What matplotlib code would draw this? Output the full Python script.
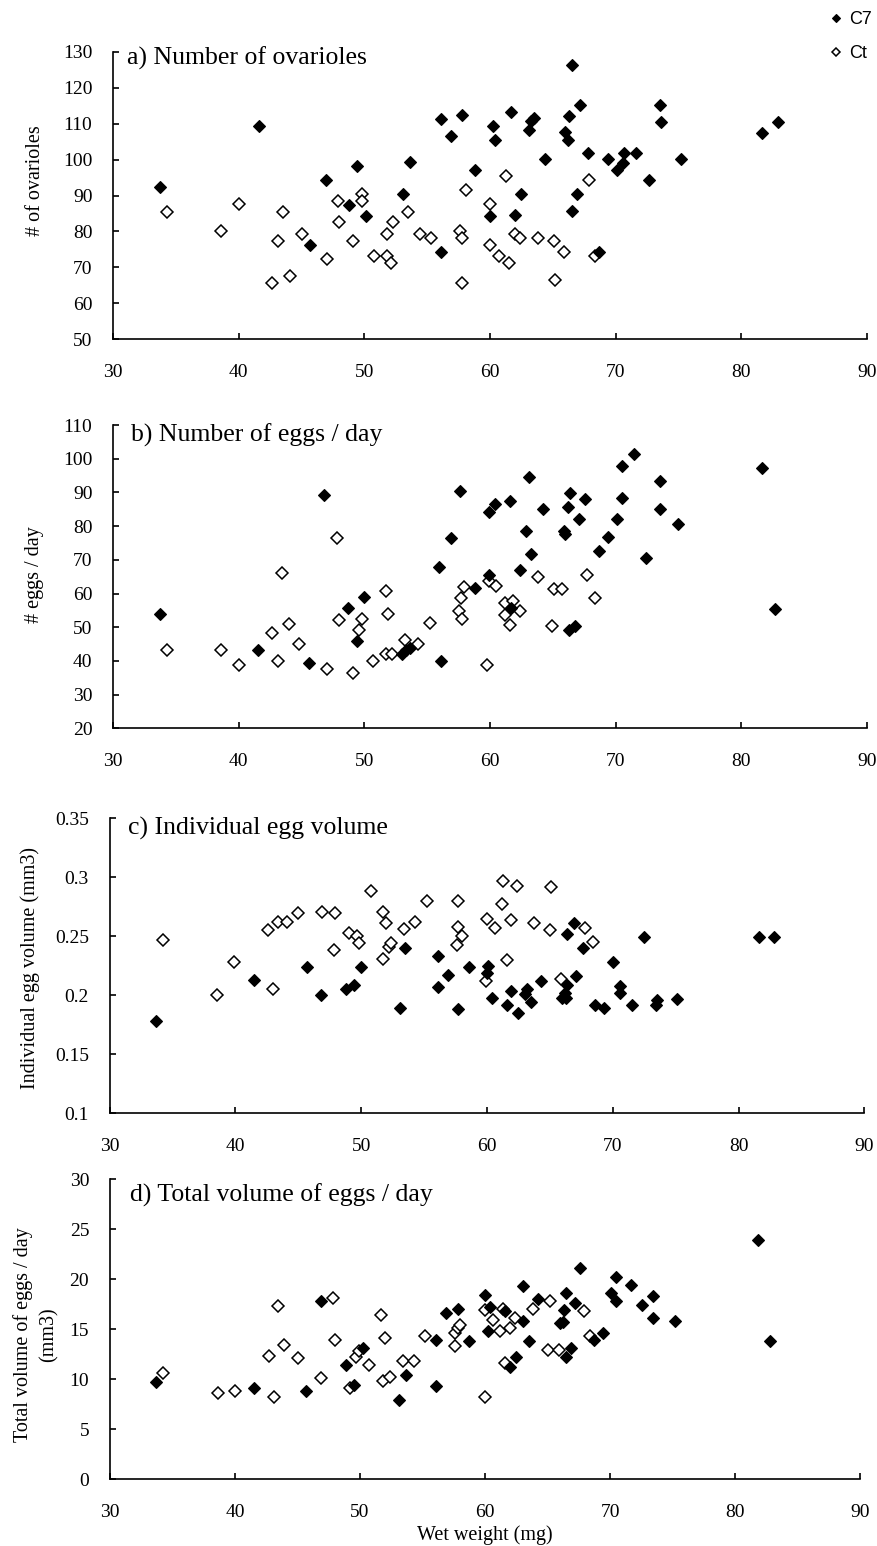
import numpy as np
import matplotlib
matplotlib.use("Agg")
import matplotlib.pyplot as plt

plt.rcParams["font.family"] = ["Liberation Serif", "DejaVu Serif"]

# wet weight (mg) and response values for each panel
# a) number of ovarioles
a_c7_x = [33.7, 41.6, 45.7, 46.9, 48.8, 49.4, 50.1, 53.1, 53.6, 56.1, 56.1, 56.9, 57.8, 58.8, 60.2,
          60.4, 60.0, 61.7, 62.0, 62.5, 63.1, 63.3, 63.5, 64.4, 66.0, 66.2, 66.3, 66.5, 66.5, 66.9,
          67.2, 67.8, 68.7, 69.4, 70.1, 70.6, 70.7, 71.6, 72.7, 73.5, 73.6, 75.2, 81.7, 82.9]
a_c7_y = [92.3, 109.3, 76.2, 94.2, 87.4, 98.1, 84.4, 90.4, 99.2, 74.3, 111.3, 106.5, 112.3, 97.1, 109.3,
          105.5, 84.4, 113.2, 84.5, 90.4, 108.3, 110.6, 111.6, 100.2, 107.6, 105.4, 112.2, 126.4, 85.6, 90.4,
          115.2, 101.7, 74.4, 100.2, 97.2, 99.1, 101.7, 101.7, 94.4, 115.2, 110.4, 100.2, 107.4, 110.4]
a_ct_x = [34.3, 38.6, 40.0, 42.6, 43.1, 43.5, 44.1, 45.0, 47.0, 47.9, 48.0, 49.1, 49.8, 49.8, 50.8,
          51.8, 51.8, 52.1, 52.3, 53.5, 54.4, 55.3, 57.6, 57.8, 57.8, 58.1, 60.0, 60.0, 60.7, 61.3,
          61.5, 62.0, 62.4, 63.8, 65.1, 65.2, 65.9, 67.9, 68.4]
a_ct_y = [85.5, 80.1, 87.5, 65.6, 77.3, 85.5, 67.5, 79.2, 72.4, 88.4, 82.6, 77.3, 90.4, 88.4, 73.3,
          73.3, 79.2, 71.3, 82.6, 85.5, 79.2, 78.2, 80.1, 78.2, 65.6, 91.4, 87.5, 76.2, 73.3, 95.4,
          71.3, 79.3, 78.1, 78.1, 77.4, 66.5, 74.3, 94.2, 73.1]

# b) number of eggs / day
b_c7_x = [33.7, 41.5, 45.6, 46.8, 48.7, 49.4, 50.0, 53.0, 53.3, 53.6, 55.9, 56.1, 56.9, 57.6, 58.8,
          59.9, 60.4, 59.9, 61.6, 63.1, 62.9, 63.3, 62.4, 61.7, 64.2, 66.2, 66.4, 67.6, 67.1, 65.9,
          66.0, 66.3, 66.8, 68.7, 69.4, 70.1, 70.5, 70.5, 71.5, 72.4, 73.5, 73.5, 75.0, 81.7, 82.7]
b_c7_y = [54.0, 43.3, 39.4, 89.2, 55.6, 45.8, 59.1, 42.1, 43.1, 43.8, 68.0, 39.9, 76.4, 90.4, 61.7,
          84.1, 86.7, 65.6, 87.3, 94.6, 78.4, 71.7, 67.1, 55.6, 85.2, 85.6, 89.9, 87.9, 82.1, 78.5,
          77.8, 49.2, 50.4, 72.7, 76.9, 82.1, 88.3, 97.7, 101.3, 70.6, 93.5, 85.2, 80.5, 97.2, 55.5]
b_ct_x = [34.3, 38.6, 40.0, 42.6, 43.1, 43.4, 44.0, 44.8, 47.0, 47.8, 48.0, 49.1, 49.6, 49.8, 50.7,
          51.7, 51.9, 51.7, 52.2, 53.2, 54.3, 55.2, 57.5, 57.7, 57.9, 57.8, 59.8, 59.9, 60.5, 61.2,
          61.8, 62.4, 61.2, 61.6, 63.8, 65.1, 65.7, 64.9, 67.7, 68.4]
b_ct_y = [43.1, 43.1, 38.9, 48.3, 40.0, 66.0, 51.0, 45.1, 37.5, 76.4, 52.0, 36.4, 49.2, 52.5, 40.0,
          60.7, 54.0, 42.1, 41.9, 46.3, 45.1, 51.3, 54.9, 58.6, 61.8, 52.5, 38.9, 63.8, 62.3, 57.2,
          57.7, 54.9, 53.5, 50.8, 65.0, 61.2, 61.2, 50.4, 65.5, 58.7]

# c) individual egg volume (mm3)
c_c7_x = [33.7, 41.5, 45.7, 46.8, 48.8, 49.4, 50.0, 53.1, 53.5, 56.1, 56.1, 56.9, 57.7, 58.6, 60.1,
          60.0, 60.4, 61.9, 61.6, 62.5, 63.0, 63.2, 63.5, 64.3, 66.0, 66.3, 66.2, 66.4, 66.4, 66.9,
          67.1, 67.6, 68.6, 69.3, 70.0, 70.6, 70.6, 71.5, 72.5, 73.4, 73.5, 75.1, 81.6, 82.8]
c_c7_y = [0.178, 0.213, 0.224, 0.200, 0.205, 0.209, 0.224, 0.189, 0.240, 0.233, 0.207, 0.217, 0.188, 0.224, 0.225,
          0.219, 0.198, 0.204, 0.192, 0.185, 0.201, 0.205, 0.194, 0.212, 0.198, 0.198, 0.202, 0.209, 0.252, 0.261,
          0.216, 0.240, 0.192, 0.189, 0.228, 0.208, 0.202, 0.192, 0.249, 0.192, 0.196, 0.197, 0.249, 0.249]
c_ct_x = [34.2, 38.5, 39.9, 42.6, 43.0, 43.4, 44.1, 45.0, 46.9, 47.8, 47.9, 49.0, 49.7, 49.8, 50.8,
          51.7, 52.0, 51.7, 52.2, 52.4, 53.4, 54.3, 55.2, 57.7, 57.7, 58.0, 57.6, 60.0, 60.6, 59.9,
          61.3, 62.4, 61.2, 61.9, 61.6, 63.7, 65.1, 65.0, 65.9, 67.8, 68.4]
c_ct_y = [0.247, 0.200, 0.228, 0.255, 0.205, 0.262, 0.262, 0.270, 0.271, 0.238, 0.270, 0.253, 0.250, 0.244, 0.288,
          0.271, 0.261, 0.231, 0.241, 0.244, 0.256, 0.262, 0.280, 0.280, 0.258, 0.250, 0.243, 0.265, 0.257, 0.212,
          0.297, 0.293, 0.277, 0.264, 0.230, 0.261, 0.292, 0.255, 0.214, 0.257, 0.245]

# d) total volume of eggs / day (mm3)
d_c7_x = [33.7, 41.5, 45.7, 46.9, 48.9, 49.5, 50.2, 53.1, 53.7, 56.1, 56.1, 56.9, 57.8, 58.7, 60.0,
          60.4, 60.2, 61.6, 62.0, 62.5, 63.0, 63.0, 63.5, 64.2, 66.0, 66.2, 66.3, 66.5, 66.5, 66.9,
          67.2, 67.6, 68.7, 69.4, 70.1, 70.5, 70.5, 71.7, 72.6, 73.4, 73.4, 75.2, 81.8, 82.8]
d_c7_y = [9.7, 9.1, 8.8, 17.8, 11.4, 9.4, 13.1, 7.9, 10.4, 13.9, 9.3, 16.6, 17.0, 13.8, 18.4,
          17.2, 14.8, 16.8, 11.2, 12.2, 15.8, 19.3, 13.8, 18.0, 15.6, 15.7, 16.9, 18.6, 12.2, 13.1,
          17.6, 21.1, 13.9, 14.6, 18.6, 20.2, 17.8, 19.4, 17.4, 18.3, 16.1, 15.8, 23.9, 13.8]
d_ct_x = [34.2, 38.6, 40.0, 43.1, 42.7, 43.4, 43.9, 45.0, 46.9, 47.8, 48.0, 49.2, 49.7, 49.9, 50.7,
          51.7, 52.0, 51.8, 52.4, 53.4, 54.3, 55.2, 57.6, 57.6, 57.8, 58.0, 60.0, 60.0, 60.6, 61.2,
          61.4, 62.0, 62.4, 61.6, 63.8, 65.2, 65.0, 65.9, 67.9, 68.4]
d_ct_y = [10.6, 8.6, 8.8, 8.2, 12.3, 17.3, 13.4, 12.1, 10.1, 18.1, 13.9, 9.1, 12.2, 12.8, 11.4,
          16.4, 14.1, 9.8, 10.2, 11.8, 11.8, 14.3, 13.3, 14.6, 15.1, 15.4, 8.2, 16.9, 15.9, 14.8,
          17.0, 15.1, 16.1, 11.6, 17.0, 17.8, 12.9, 12.9, 16.8, 14.3]

titles = ["a) Number of ovarioles", "b) Number of eggs / day",
          "c) Individual egg volume", "d) Total volume of eggs / day"]
ylabels = ["# of ovarioles", "# eggs / day", "Individual egg volume (mm3)",
           "Total volume of eggs / day\n(mm3)"]
y_ranges = [(50, 130), (20, 110), (0.1, 0.35), (0, 30)]
y_ticklabels = [[str(v) for v in range(50, 131, 10)],
                [str(v) for v in range(20, 111, 10)],
                ["0.1", "0.15", "0.2", "0.25", "0.3", "0.35"],
                [str(v) for v in range(0, 31, 5)]]
x_ticks = [30, 40, 50, 60, 70, 80, 90]

W, H = 877, 1546
fig = plt.figure(figsize=(W / 100, H / 100), dpi=100)

# plot area boxes in pixels: left, right, top, bottom
boxes = [(113.3, 866.7, 51.7, 339.3),
         (113.3, 866.7, 425.0, 728.3),
         (109.7, 864.3, 818.3, 1113.3),
         (110.0, 860.0, 1179.0, 1479.3)]
title_pos = [(127, 58), (131, 435), (128, 828), (130, 1195)]
ylabel_pos = [(35, 181), (35, 575), (30, 968), (36, 1335)]

panels = [(a_c7_x, a_c7_y, a_ct_x, a_ct_y),
          (b_c7_x, b_c7_y, b_ct_x, b_ct_y),
          (c_c7_x, c_c7_y, c_ct_x, c_ct_y),
          (d_c7_x, d_c7_y, d_ct_x, d_ct_y)]

handles = None
for i, (cx, cy, tx, ty) in enumerate(panels):
    l, r, t, b = boxes[i]
    ax = fig.add_axes([l / W, 1 - b / H, (r - l) / W, (b - t) / H])
    h_ct, = ax.plot(tx, ty, "D", ms=6.2, mfc="white", mec="black", mew=1.1, ls="none", zorder=3)
    h_c7, = ax.plot(cx, cy, "D", ms=6.4, mfc="black", mec="black", mew=0.8, ls="none", zorder=4)
    if handles is None:
        handles = [h_c7, h_ct]

    lo, hi = y_ranges[i]
    ax.set_ylim(lo, hi)
    ax.set_yticks(np.linspace(lo, hi, len(y_ticklabels[i])))
    ax.set_yticklabels(y_ticklabels[i])
    ax.set_xlim(30, 90)
    ax.set_xticks(x_ticks)

    for s in ["top", "right"]:
        ax.spines[s].set_visible(False)
    for s in ["left", "bottom"]:
        ax.spines[s].set_linewidth(1.2)
    ax.tick_params(axis="both", direction="in", length=4, width=1.2, labelsize=14)
    ax.tick_params(axis="y", pad=15)
    ax.tick_params(axis="x", pad=18)
    ax.patch.set_alpha(0)

    fig.text(title_pos[i][0] / W, 1 - title_pos[i][1] / H, titles[i], fontsize=18.5,
             ha="left", va="center")
    fig.text(ylabel_pos[i][0] / W, 1 - ylabel_pos[i][1] / H, ylabels[i], fontsize=14.5,
             rotation=90, ha="center", va="center", multialignment="center", linespacing=1.45)

fig.text(485 / W, 1 - 1535 / H, "Wet weight (mg)", fontsize=14.5, ha="center", va="center")

fig.legend(handles, ["C7", "Ct"], loc="upper left", bbox_to_anchor=(822 / W, 1 - 2 / H),
           frameon=False, handlelength=0.6, handletextpad=0.4, labelspacing=0.95,
           markerscale=0.65, borderpad=0, prop={"family": "Liberation Sans", "size": 13})

fig.savefig("out.png", dpi=100)
